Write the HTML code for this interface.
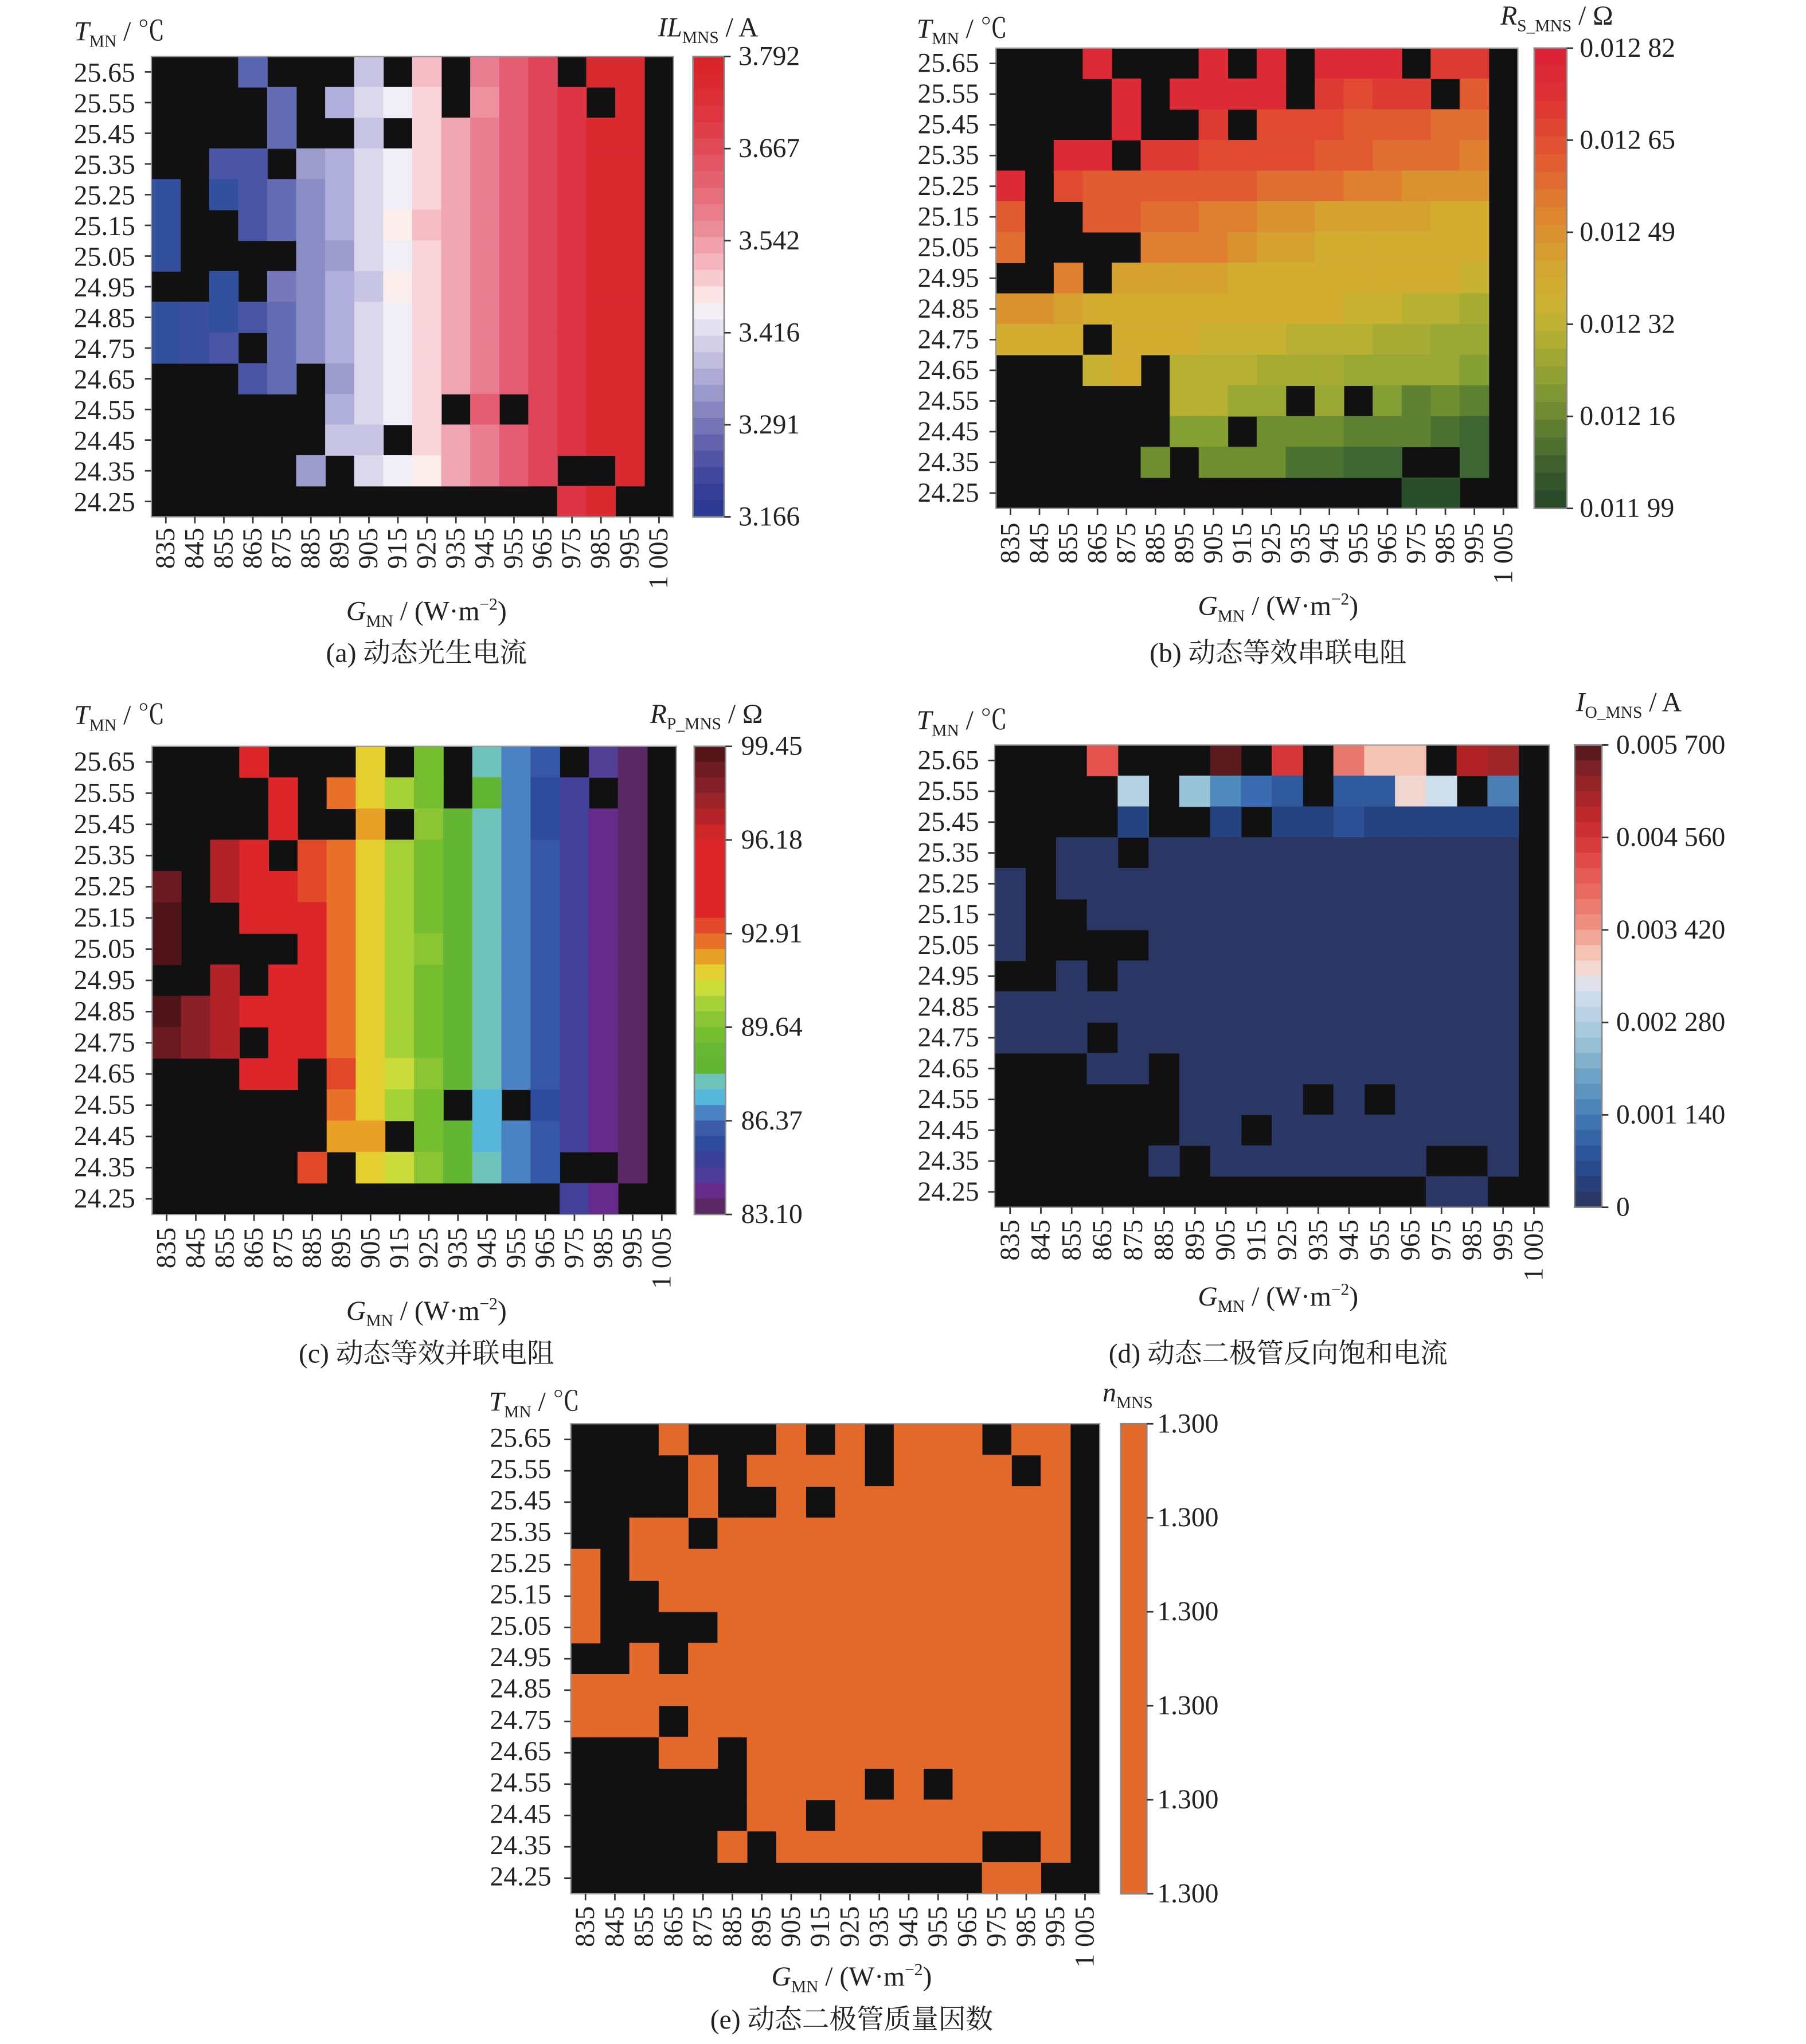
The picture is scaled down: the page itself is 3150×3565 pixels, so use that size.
<!DOCTYPE html>
<html><head><meta charset="utf-8"><style>
html,body{margin:0;padding:0;background:#fff}
svg{display:block}
text{font-family:"Liberation Serif","Noto Serif CJK SC",serif;fill:#222}
.t{font-size:21px}
.cap{font-size:21px}
.s{font-size:13px}
</style></head><body>
<svg id="svg" xmlns="http://www.w3.org/2000/svg" width="3150" height="3565" viewBox="0 0 1389 1572">
<rect width="1389" height="1572" fill="#fff"/>
<g id="cells"></g>

<!-- Panel a labels -->
<text class="t" text-anchor="end" dominant-baseline="central"><tspan x="104" y="56.2">25.65</tspan><tspan x="104" y="79.8">25.55</tspan><tspan x="104" y="103.4">25.45</tspan><tspan x="104" y="127">25.35</tspan><tspan x="104" y="150.6">25.25</tspan><tspan x="104" y="174.2">25.15</tspan><tspan x="104" y="197.8">25.05</tspan><tspan x="104" y="221.4">24.95</tspan><tspan x="104" y="245">24.85</tspan><tspan x="104" y="268.6">24.75</tspan><tspan x="104" y="292.2">24.65</tspan><tspan x="104" y="315.8">24.55</tspan><tspan x="104" y="339.4">24.45</tspan><tspan x="104" y="363">24.35</tspan><tspan x="104" y="386.6">24.25</tspan></text>
<g transform="rotate(-90)"><text class="t" text-anchor="end" dominant-baseline="central"><tspan x="-406" y="127.5">835</tspan><tspan x="-406" y="149.8">845</tspan><tspan x="-406" y="172.1">855</tspan><tspan x="-406" y="194.4">865</tspan><tspan x="-406" y="216.7">875</tspan><tspan x="-406" y="239">885</tspan><tspan x="-406" y="261.3">895</tspan><tspan x="-406" y="283.6">905</tspan><tspan x="-406" y="305.9">915</tspan><tspan x="-406" y="328.2">925</tspan><tspan x="-406" y="350.5">935</tspan><tspan x="-406" y="372.8">945</tspan><tspan x="-406" y="395.1">955</tspan><tspan x="-406" y="417.4">965</tspan><tspan x="-406" y="439.7">975</tspan><tspan x="-406" y="462">985</tspan><tspan x="-406" y="484.3">995</tspan><tspan x="-406" y="506.6">1 005</tspan></text></g>
<text class="t" dominant-baseline="central"><tspan x="568" y="43.5">3.792</tspan><tspan x="568" y="114.3">3.667</tspan><tspan x="568" y="185.1">3.542</tspan><tspan x="568" y="255.9">3.416</tspan><tspan x="568" y="326.7">3.291</tspan><tspan x="568" y="397.5">3.166</tspan></text>
<text class="t" x="57" y="31"><tspan font-style="italic">T</tspan><tspan class="s" dy="5">MN</tspan><tspan dy="-5"> / ℃</tspan></text>
<text class="t" x="506" y="28"><tspan font-style="italic">IL</tspan><tspan class="s" dy="5">MNS</tspan><tspan dy="-5"> / A</tspan></text>
<text class="t" x="328" y="477" text-anchor="middle"><tspan font-style="italic">G</tspan><tspan class="s" dy="5">MN</tspan><tspan dy="-5"> / (W·m</tspan><tspan class="s" dy="-8">−2</tspan><tspan dy="8">)</tspan></text>
<text class="cap" x="328" y="509" text-anchor="middle">(a) 动态光生电流</text>

<!-- Panel b labels -->
<text class="t" text-anchor="end" dominant-baseline="central"><tspan x="753" y="48.8">25.65</tspan><tspan x="753" y="72.4">25.55</tspan><tspan x="753" y="96">25.45</tspan><tspan x="753" y="119.6">25.35</tspan><tspan x="753" y="143.2">25.25</tspan><tspan x="753" y="166.8">25.15</tspan><tspan x="753" y="190.4">25.05</tspan><tspan x="753" y="214">24.95</tspan><tspan x="753" y="237.6">24.85</tspan><tspan x="753" y="261.2">24.75</tspan><tspan x="753" y="284.8">24.65</tspan><tspan x="753" y="308.4">24.55</tspan><tspan x="753" y="332">24.45</tspan><tspan x="753" y="355.6">24.35</tspan><tspan x="753" y="379.2">24.25</tspan></text>
<g transform="rotate(-90)"><text class="t" text-anchor="end" dominant-baseline="central"><tspan x="-402" y="777.2">835</tspan><tspan x="-402" y="799.5">845</tspan><tspan x="-402" y="821.8">855</tspan><tspan x="-402" y="844.1">865</tspan><tspan x="-402" y="866.4">875</tspan><tspan x="-402" y="888.7">885</tspan><tspan x="-402" y="911">895</tspan><tspan x="-402" y="933.3">905</tspan><tspan x="-402" y="955.6">915</tspan><tspan x="-402" y="977.9">925</tspan><tspan x="-402" y="1000.2">935</tspan><tspan x="-402" y="1022.5">945</tspan><tspan x="-402" y="1044.8">955</tspan><tspan x="-402" y="1067.1">965</tspan><tspan x="-402" y="1089.4">975</tspan><tspan x="-402" y="1111.7">985</tspan><tspan x="-402" y="1134">995</tspan><tspan x="-402" y="1156.3">1 005</tspan></text></g>
<text class="t" dominant-baseline="central"><tspan x="1215" y="37">0.012 82</tspan><tspan x="1215" y="107.8">0.012 65</tspan><tspan x="1215" y="178.6">0.012 49</tspan><tspan x="1215" y="249.4">0.012 32</tspan><tspan x="1215" y="320.2">0.012 16</tspan><tspan x="1215" y="391">0.011 99</tspan></text>
<text class="t" x="705" y="29"><tspan font-style="italic">T</tspan><tspan class="s" dy="5">MN</tspan><tspan dy="-5"> / ℃</tspan></text>
<text class="t" x="1154" y="19"><tspan font-style="italic">R</tspan><tspan class="s" dy="5">S_MNS</tspan><tspan dy="-5"> / Ω</tspan></text>
<text class="t" x="983" y="473" text-anchor="middle"><tspan font-style="italic">G</tspan><tspan class="s" dy="5">MN</tspan><tspan dy="-5"> / (W·m</tspan><tspan class="s" dy="-8">−2</tspan><tspan dy="8">)</tspan></text>
<text class="cap" x="983" y="509" text-anchor="middle">(b) 动态等效串联电阻</text>

<!-- Panel c labels -->
<text class="t" text-anchor="end" dominant-baseline="central"><tspan x="104" y="586">25.65</tspan><tspan x="104" y="610">25.55</tspan><tspan x="104" y="634">25.45</tspan><tspan x="104" y="658">25.35</tspan><tspan x="104" y="682">25.25</tspan><tspan x="104" y="706">25.15</tspan><tspan x="104" y="730">25.05</tspan><tspan x="104" y="754">24.95</tspan><tspan x="104" y="778">24.85</tspan><tspan x="104" y="802">24.75</tspan><tspan x="104" y="826">24.65</tspan><tspan x="104" y="850">24.55</tspan><tspan x="104" y="874">24.45</tspan><tspan x="104" y="898">24.35</tspan><tspan x="104" y="922">24.25</tspan></text>
<g transform="rotate(-90)"><text class="t" text-anchor="end" dominant-baseline="central"><tspan x="-944" y="128.2">835</tspan><tspan x="-944" y="150.6">845</tspan><tspan x="-944" y="173">855</tspan><tspan x="-944" y="195.4">865</tspan><tspan x="-944" y="217.8">875</tspan><tspan x="-944" y="240.2">885</tspan><tspan x="-944" y="262.6">895</tspan><tspan x="-944" y="285">905</tspan><tspan x="-944" y="307.4">915</tspan><tspan x="-944" y="329.8">925</tspan><tspan x="-944" y="352.2">935</tspan><tspan x="-944" y="374.6">945</tspan><tspan x="-944" y="397">955</tspan><tspan x="-944" y="419.4">965</tspan><tspan x="-944" y="441.8">975</tspan><tspan x="-944" y="464.2">985</tspan><tspan x="-944" y="486.6">995</tspan><tspan x="-944" y="509">1 005</tspan></text></g>
<text class="t" dominant-baseline="central"><tspan x="570" y="574">99.45</tspan><tspan x="570" y="646">96.18</tspan><tspan x="570" y="718">92.91</tspan><tspan x="570" y="790">89.64</tspan><tspan x="570" y="862">86.37</tspan><tspan x="570" y="934">83.10</tspan></text>
<text class="t" x="57" y="557"><tspan font-style="italic">T</tspan><tspan class="s" dy="5">MN</tspan><tspan dy="-5"> / ℃</tspan></text>
<text class="t" x="500" y="556"><tspan font-style="italic">R</tspan><tspan class="s" dy="5">P_MNS</tspan><tspan dy="-5"> / Ω</tspan></text>
<text class="t" x="328" y="1015" text-anchor="middle"><tspan font-style="italic">G</tspan><tspan class="s" dy="5">MN</tspan><tspan dy="-5"> / (W·m</tspan><tspan class="s" dy="-8">−2</tspan><tspan dy="8">)</tspan></text>
<text class="cap" x="328" y="1048" text-anchor="middle">(c) 动态等效并联电阻</text>

<!-- Panel d labels -->
<text class="t" text-anchor="end" dominant-baseline="central"><tspan x="753" y="584.9">25.65</tspan><tspan x="753" y="608.6">25.55</tspan><tspan x="753" y="632.3">25.45</tspan><tspan x="753" y="656">25.35</tspan><tspan x="753" y="679.7">25.25</tspan><tspan x="753" y="703.4">25.15</tspan><tspan x="753" y="727.1">25.05</tspan><tspan x="753" y="750.8">24.95</tspan><tspan x="753" y="774.5">24.85</tspan><tspan x="753" y="798.2">24.75</tspan><tspan x="753" y="821.9">24.65</tspan><tspan x="753" y="845.6">24.55</tspan><tspan x="753" y="869.3">24.45</tspan><tspan x="753" y="893">24.35</tspan><tspan x="753" y="916.7">24.25</tspan></text>
<g transform="rotate(-90)"><text class="t" text-anchor="end" dominant-baseline="central"><tspan x="-938" y="776.9">835</tspan><tspan x="-938" y="800.6">845</tspan><tspan x="-938" y="824.3">855</tspan><tspan x="-938" y="848">865</tspan><tspan x="-938" y="871.7">875</tspan><tspan x="-938" y="895.4">885</tspan><tspan x="-938" y="919.1">895</tspan><tspan x="-938" y="942.8">905</tspan><tspan x="-938" y="966.5">915</tspan><tspan x="-938" y="990.2">925</tspan><tspan x="-938" y="1013.9">935</tspan><tspan x="-938" y="1037.6">945</tspan><tspan x="-938" y="1061.3">955</tspan><tspan x="-938" y="1085">965</tspan><tspan x="-938" y="1108.7">975</tspan><tspan x="-938" y="1132.4">985</tspan><tspan x="-938" y="1156.1">995</tspan><tspan x="-938" y="1179.8">1 005</tspan></text></g>
<text class="t" dominant-baseline="central"><tspan x="1243" y="573">0.005 700</tspan><tspan x="1243" y="644.1">0.004 560</tspan><tspan x="1243" y="715.2">0.003 420</tspan><tspan x="1243" y="786.3">0.002 280</tspan><tspan x="1243" y="857.4">0.001 140</tspan><tspan x="1243" y="928.5">0</tspan></text>
<text class="t" x="705" y="561"><tspan font-style="italic">T</tspan><tspan class="s" dy="5">MN</tspan><tspan dy="-5"> / ℃</tspan></text>
<text class="t" x="1212" y="547"><tspan font-style="italic">I</tspan><tspan class="s" dy="5">O_MNS</tspan><tspan dy="-5"> / A</tspan></text>
<text class="t" x="983" y="1004" text-anchor="middle"><tspan font-style="italic">G</tspan><tspan class="s" dy="5">MN</tspan><tspan dy="-5"> / (W·m</tspan><tspan class="s" dy="-8">−2</tspan><tspan dy="8">)</tspan></text>
<text class="cap" x="983" y="1048" text-anchor="middle">(d) 动态二极管反向饱和电流</text>

<!-- Panel e labels -->
<text class="t" text-anchor="end" dominant-baseline="central"><tspan x="424" y="1106.1">25.65</tspan><tspan x="424" y="1130.2">25.55</tspan><tspan x="424" y="1154.3">25.45</tspan><tspan x="424" y="1178.4">25.35</tspan><tspan x="424" y="1202.5">25.25</tspan><tspan x="424" y="1226.6">25.15</tspan><tspan x="424" y="1250.7">25.05</tspan><tspan x="424" y="1274.8">24.95</tspan><tspan x="424" y="1298.9">24.85</tspan><tspan x="424" y="1323">24.75</tspan><tspan x="424" y="1347.1">24.65</tspan><tspan x="424" y="1371.2">24.55</tspan><tspan x="424" y="1395.3">24.45</tspan><tspan x="424" y="1419.4">24.35</tspan><tspan x="424" y="1443.5">24.25</tspan></text>
<g transform="rotate(-90)"><text class="t" text-anchor="end" dominant-baseline="central"><tspan x="-1466" y="450.3">835</tspan><tspan x="-1466" y="472.9">845</tspan><tspan x="-1466" y="495.5">855</tspan><tspan x="-1466" y="518.1">865</tspan><tspan x="-1466" y="540.7">875</tspan><tspan x="-1466" y="563.3">885</tspan><tspan x="-1466" y="585.9">895</tspan><tspan x="-1466" y="608.5">905</tspan><tspan x="-1466" y="631.1">915</tspan><tspan x="-1466" y="653.7">925</tspan><tspan x="-1466" y="676.3">935</tspan><tspan x="-1466" y="698.9">945</tspan><tspan x="-1466" y="721.5">955</tspan><tspan x="-1466" y="744.1">965</tspan><tspan x="-1466" y="766.7">975</tspan><tspan x="-1466" y="789.3">985</tspan><tspan x="-1466" y="811.9">995</tspan><tspan x="-1466" y="834.5">1 005</tspan></text></g>
<text class="t" dominant-baseline="central"><tspan x="890" y="1095">1.300</tspan><tspan x="890" y="1167.3">1.300</tspan><tspan x="890" y="1239.6">1.300</tspan><tspan x="890" y="1311.9">1.300</tspan><tspan x="890" y="1384.2">1.300</tspan><tspan x="890" y="1456.5">1.300</tspan></text>
<text class="t" x="376" y="1085"><tspan font-style="italic">T</tspan><tspan class="s" dy="5">MN</tspan><tspan dy="-5"> / ℃</tspan></text>
<text class="t" x="848" y="1078"><tspan font-style="italic">n</tspan><tspan class="s" dy="5">MNS</tspan></text>
<text class="t" x="655" y="1527" text-anchor="middle"><tspan font-style="italic">G</tspan><tspan class="s" dy="5">MN</tspan><tspan dy="-5"> / (W·m</tspan><tspan class="s" dy="-8">−2</tspan><tspan dy="8">)</tspan></text>
<text class="cap" x="655" y="1560" text-anchor="middle">(e) 动态二极管质量因数</text>
</svg>
<script>
(function(){
var NS="http://www.w3.org/2000/svg",g=document.getElementById("cells");
function R(x,y,w,h,f,extra){var r=document.createElementNS(NS,"rect");r.setAttribute("x",x);r.setAttribute("y",y);r.setAttribute("width",w);r.setAttribute("height",h);r.setAttribute("fill",f);if(extra)for(var k in extra)r.setAttribute(k,extra[k]);g.appendChild(r);}
function L(x1,y1,x2,y2){var l=document.createElementNS(NS,"line");l.setAttribute("x1",x1);l.setAttribute("y1",y1);l.setAttribute("x2",x2);l.setAttribute("y2",y2);l.setAttribute("stroke","#333");l.setAttribute("stroke-width","1.2");g.appendChild(l);}
function heat(x0,y0,w,h,rows,pal){
 var cw=w/18,ch=h/15;
 R(x0,y0,w,h,"#111");
 for(var j=0;j<15;j++){var s=rows[j].replace(/ /g,"");
  for(var i=0;i<18;i++){var c=s[i];if(c!=="K"&&pal[c])R(x0+i*cw-0.2,y0+j*ch-0.2,cw+0.4,ch+0.4,pal[c]);}}
 R(x0,y0,w,h,"none",{stroke:"#999","stroke-width":"1"});
 for(var j=0;j<15;j++)L(x0-5,y0+(j+0.5)*ch,x0,y0+(j+0.5)*ch);
 for(var i=0;i<18;i++)L(x0+(i+0.5)*cw,y0+h,x0+(i+0.5)*cw,y0+h+5);
}
function cbar(x,y,w,h,cols){
 var n=cols.length,s=h/n;
 for(var k=0;k<n;k++)R(x,y+k*s-0.2,w,s+0.4,cols[k]);
 R(x,y,w,h,"none",{stroke:"#888","stroke-width":"1.2"});
 for(var k=0;k<6;k++)L(x+w,y+k*h/5,x+w+5,y+k*h/5);
}
var pa={a:"#33509f",b:"#3a4fa0",c:"#4a55a5",d:"#5a65b0",e:"#636bb2",f:"#7678bb",g:"#8a8cc5",h:"#9c9ccd",i:"#b0aedb",j:"#c8c4e4",k:"#dcd8ec",l:"#f0eef6",m:"#fdeeee",n:"#f8d3da",o:"#f6bcc6",p:"#f1a7b3",q:"#e87d90",r:"#ee919f",s:"#e45d73",t:"#df4458",u:"#dc3444",v:"#d92a30"};
heat(116.4,43.5,401.6,354,[
"KKKdKKKjKoKqstKvvK",
"KKKKeKiklnKrstuKvK",
"KKKKeKKjKnpqstuvvK",
"KKccKhiklnpqstuvvK",
"aKacegiklnpqstuvvK",
"aKKcegikmopqstuvvK",
"aKKKKghklnpqstuvvK",
"KKaKfgijmnpqstuvvK",
"abacegiklnpqstuvvK",
"abcKegiklnpqstuvvK",
"KKKceKhklnpqstuvvK",
"KKKKKKiklnKsKtuvvK",
"KKKKKKjjKnpqstuvvK",
"KKKKKhKklmpqstKKvK",
"KKKKKKKKKKKKKKuvKK"],pa);
cbar(533,43.5,24,354,['#d92428','#da2a2f','#dc3038','#dd3640','#df3f4a','#e04a56','#e25663','#e46170','#e66e7d','#e97d8b','#ec8e9a','#f0a1ac','#f4b5be','#f8cbd1','#fbe3e6','#f3eff5','#e4e1f0','#d3cfe7','#c0bcde','#aeaad5','#9b98cb','#8886c1','#7574b7','#6363ad','#5255a5','#42489d','#353f98','#2d3a93']);
var pb={R:"#dc2a36",r:"#dd3a33",s:"#df4a30",t:"#e05c30",u:"#e06e30",v:"#df8030",w:"#d9922e",x:"#d5a230",y:"#d2ad30",z:"#c8b232",A:"#b8b032",B:"#a5ab33",C:"#98a833",D:"#85a032",E:"#6e8e30",F:"#5e8232",G:"#4c7232",H:"#3e6632",I:"#2a4e2a"};
heat(766,37,401.4,354,[
"KKKRKKKRKRKRRRKrrK",
"KKKKRKRRRRKrsrrKtK",
"KKKKRKKrKssstttuuK",
"KKRRKrrssssttuuuvK",
"RKsttttttuuuvvwwwK",
"tKKttuuvvwwxxxxyyK",
"uKKKKvvvwxxyyyyyyK",
"KKvKxxxxyyyyyyyyzK",
"wwxyyyyyyyyyzzAABK",
"yyyKyyyzzzAAABBCCK",
"KKKzyKAAABBBCCCCDK",
"KKKKKKAACCKCKDFEFK",
"KKKKKKDDKEEEFFFGHK",
"KKKKKEKEEEGGHHKKHK",
"KKKKKKKKKKKKKKIIKK"],pb);
cbar(1180,37,25,354,['#dc2436','#dc2a36','#dd3034','#de3a33','#df4631','#e05231','#e05e30','#e06b30','#df7830','#de8530','#da9130','#d69c30','#d3a731','#d1ae31','#ccb232','#c0b033','#b0ad33','#a0a833','#90a032','#809632','#708a31','#607e31','#507030','#40602e','#34552c','#2a4a2a']);
var pc={D:"#4f1418",E:"#6a1a20",F:"#8a2028",G:"#b02228",R:"#dc2629",O:"#e2482a",P:"#e87028",Q:"#e9a027",Y:"#e3cf30",L:"#c9dc3a",M:"#a7d139",N:"#8cc534",g:"#74be30",h:"#62b634",T:"#6ec4ba",S:"#56b7db",U:"#4a82c3",V:"#3557a6",W:"#2e4a9a",X:"#43409a",Z:"#662b8a",z:"#5b2866",I:"#523f96"};
heat(117,574,403.2,360,[
"KKKRKKKYKgKTUVKIzK",
"KKKKRKPYMgKhUWXKzK",
"KKKKRKKQKNhTUWXZzK",
"KKGRKOPYMghTUVXZzK",
"EKGRROPYMghTUVXZzK",
"DKKRRRPYMghTUVXZzK",
"DKKKKRPYMNhTUVXZzK",
"KKGKRRPYMghTUVXZzK",
"DFGRRRPYMghTUVXZzK",
"EFGKRRPYMghTUVXZzK",
"KKKRRKOYLNhTUVXZzK",
"KKKKKKPYMgKSKWXZzK",
"KKKKKKQQKghSUVXZzK",
"KKKKKOKYLNhTUVKKzK",
"KKKKKKKKKKKKKKXZKK"],pc);
cbar(534,574,24,360,['#541418','#6e1c22','#84202a','#9a2229','#b22428','#cc2629','#dc2629','#dc2629','#dc2629','#dc2629','#dc2629','#e2482a','#e87028','#e9a027','#e3cf30','#cade3a','#a7d139','#8cc534','#74be30','#66b834','#62b634','#6ec4ba','#56b7db','#4a82c3','#3a5ca8','#2e4a9a','#3c3f98','#4a3c98','#662b8a','#5b2866']);
var pd={a:"#e5534e",b:"#5a1a1e",c:"#d53538",e:"#e8786d",f:"#f5c3b3",g:"#b02226",h:"#9e2629",i:"#b4d2e2",j:"#98c4d8",k:"#4f8bbd",l:"#3a6aaf",m:"#2f5a9e",n:"#f0d6d0",o:"#cddfec",p:"#4a7db3",q:"#25437f",r:"#2d4f95",s:"#2a3764"};
heat(765,573,426.6,355.5,[
"KKKaKKKbKcKeffKghK",
"KKKKiKjklmKmmnoKpK",
"KKKKqKKqKqqrqqqqqK",
"KKssKssssssssssssK",
"sKsssssssssssssssK",
"sKKssssssssssssssK",
"sKKKKssssssssssssK",
"KKsKsssssssssssssK",
"sssssssssssssssssK",
"sssKsssssssssssssK",
"KKKssKsssssssssssK",
"KKKKKKssssKsKssssK",
"KKKKKKssKssssssssK",
"KKKKKsKsssssssKKsK",
"KKKKKKKKKKKKKKssKK"],pd);
cbar(1211,573,21,355.5,['#5a1a1e','#7a2026','#922428','#a8262a','#bc292d','#cc3034','#d93a3c','#e04a48','#e45a54','#e86a60','#ec7c70','#ee8f82','#f2a898','#f5c3b3','#f2d8d2','#e0e0ea','#cadbea','#bbd2e4','#a9c9dc','#97c0d6','#82b1cd','#6ea2c6','#5e94c0','#4d85b8','#4074b0','#3564a7','#2f559c','#2a4a8e','#28407a','#2a3764']);
var pe={O:"#e3692b"};
heat(439,1095,406.8,361.5,[
"KKKOKKKOKOKOOOKOOK",
"KKKKOKOOOOKOOOOKOK",
"KKKKOKKOKOOOOOOOOK",
"KKOOKOOOOOOOOOOOOK",
"OKOOOOOOOOOOOOOOOK",
"OKKOOOOOOOOOOOOOOK",
"OKKKKOOOOOOOOOOOOK",
"KKOKOOOOOOOOOOOOOK",
"OOOOOOOOOOOOOOOOOK",
"OOOKOOOOOOOOOOOOOK",
"KKKOOKOOOOOOOOOOOK",
"KKKKKKOOOOKOKOOOOK",
"KKKKKKOOKOOOOOOOOK",
"KKKKKOKOOOOOOOKKOK",
"KKKKKKKKKKKKKKOOKK"],pe);
cbar(862,1095,20,361.5,['#e3692b']);
})();
</script>
</body></html>
